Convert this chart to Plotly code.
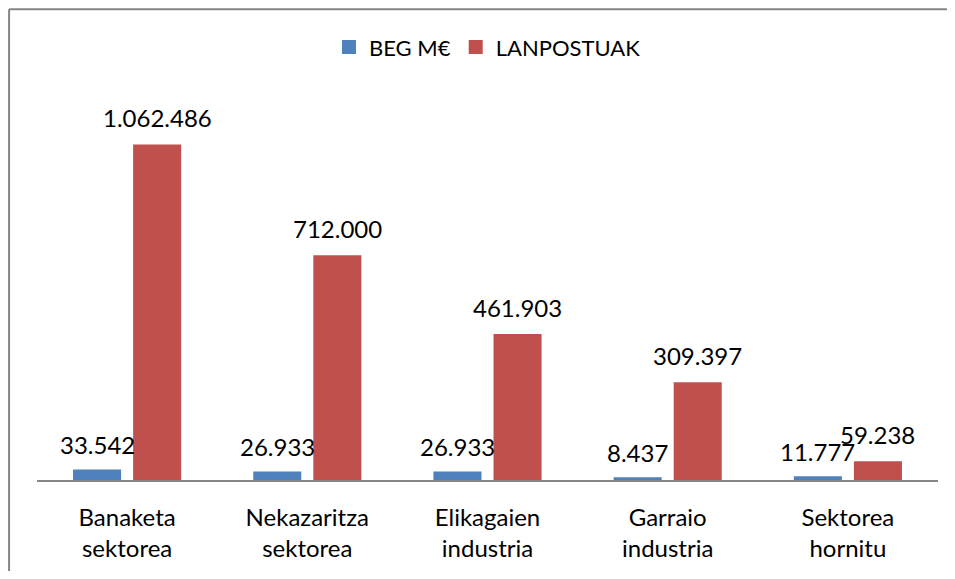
import plotly.graph_objects as go

categories = ["Banaketa<br>sektorea", "Nekazaritza<br>sektorea", "Elikagaien<br>industria",
              "Garraio<br>industria", "Sektorea<br>hornitu"]
beg = [33542, 26933, 26933, 8437, 11777]
lanpostuak = [1062486, 712000, 461903, 309397, 59238]
beg_labels = ["33.542", "26.933", "26.933", "8.437", "11.777"]
lan_labels = ["1.062.486", "712.000", "461.903", "309.397", "59.238"]
series_names = ["BEG M€", "LANPOSTUAK"]

FONT = "Lato"
BLUE = "#4F81BD"
RED = "#C0504D"

fig = go.Figure()
fig.add_trace(go.Bar(name=series_names[0], x=categories, y=beg, marker_color=BLUE,
                     marker_line_width=0, showlegend=False))
fig.add_trace(go.Bar(name=series_names[1], x=categories, y=lanpostuak, marker_color=RED,
                     marker_line_width=0, showlegend=False))
# legend entries with square swatches
for name, col in zip(series_names, [BLUE, RED]):
    fig.add_trace(go.Scatter(name=name, x=[None], y=[None], mode="markers",
                             marker=dict(symbol="square", size=14, color=col),
                             showlegend=True))

annotations = []
for c, v, t in zip(categories, beg, beg_labels):
    annotations.append(dict(x=c, y=v, text=t, xshift=-30, yshift=25, showarrow=False,
                            yanchor="middle", font=dict(family=FONT, size=24, color="#000")))
for c, v, t in zip(categories, lanpostuak, lan_labels):
    annotations.append(dict(x=c, y=v, text=t, xshift=30, yshift=27, showarrow=False,
                            yanchor="middle", font=dict(family=FONT, size=24, color="#000")))

border = dict(color="#868686", width=2)
fig.update_layout(
    width=939, height=563,
    margin=dict(l=29, r=9, t=93, b=88),
    paper_bgcolor="white", plot_bgcolor="white",
    barmode="group", bargap=1/3, bargroupgap=0.2,
    showlegend=True,
    legend=dict(orientation="h", x=0.5, xanchor="center", y=1.142, yanchor="middle",
                font=dict(family=FONT, size=22, color="#000"), itemwidth=30,
                bgcolor="rgba(0,0,0,0)", tracegroupgap=0),
    xaxis=dict(showline=True, linecolor="#868686", linewidth=2, ticks="",
               tickfont=dict(family=FONT, size=24, color="#000"), showgrid=False,
               ticklabelstandoff=15),
    yaxis=dict(range=[0, 1200000], visible=False, showgrid=False, zeroline=False),
    annotations=annotations,
    shapes=[
        dict(type="line", xref="paper", yref="paper", x0=-0.031, x1=1.2,
             y0=1.242, y1=1.242, line=border, layer="below"),
        dict(type="line", xref="paper", yref="paper", x0=-0.031, x1=-0.031,
             y0=1.242, y1=-0.4, line=border, layer="below"),
    ],
)

fig.write_html("out.html")
